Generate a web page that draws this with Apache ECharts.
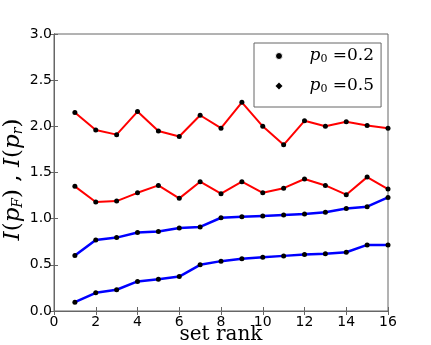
<!DOCTYPE html>
<html>
<head>
<meta charset="utf-8">
<script src="https://cdn.jsdelivr.net/npm/echarts@6/dist/echarts.min.js"></script>
<style>
html, body { margin: 0; padding: 0; background: #fff; }
#main { width: 431px; height: 345px; }
</style>
</head>
<body>
<div id="main"></div>
<script>
// set rank 1..16
var ranks = [1, 2, 3, 4, 5, 6, 7, 8, 9, 10, 11, 12, 13, 14, 15, 16];
// red curves
var redHigh = [2.15, 1.96, 1.91, 2.16, 1.95, 1.89, 2.12, 1.98, 2.26, 2.00, 1.80, 2.06, 2.00, 2.05, 2.01, 1.98];
var redLow = [1.35, 1.18, 1.19, 1.28, 1.36, 1.22, 1.40, 1.27, 1.40, 1.28, 1.33, 1.43, 1.36, 1.26, 1.45, 1.32];
// blue curves
var blueHigh = [0.60, 0.77, 0.795, 0.85, 0.86, 0.90, 0.91, 1.01, 1.02, 1.03, 1.04, 1.05, 1.07, 1.11, 1.13, 1.23];
var blueLow = [0.095, 0.197, 0.23, 0.32, 0.344, 0.373, 0.50, 0.54, 0.565, 0.582, 0.597, 0.611, 0.619, 0.636, 0.716, 0.716];
var legendNames = ['p0=0.2', 'p0=0.5'];
var legendValues = ['0.2', '0.5'];

var frame = '#666';
var tickFont = 'DejaVu Sans';
var serif = 'DejaVu Serif';

function pairs(ys) {
    var out = [];
    for (var i = 0; i < ranks.length; i++) out.push([ranks[i], ys[i]]);
    return out;
}

function curve(ys, color, w) {
    return {
        type: 'line',
        data: pairs(ys),
        symbol: 'circle',
        symbolSize: 5,
        itemStyle: { color: '#000' },
        lineStyle: { color: color, width: w },
        emphasis: { disabled: true },
        silent: true,
        animation: false
    };
}

var myChart = echarts.init(document.getElementById('main'), null, { renderer: 'canvas' });

var tickStyle = { inside: true, length: 4, lineStyle: { color: frame } };

var option = {
    backgroundColor: '#fff',
    animation: false,
    grid: { left: 54, right: 43, top: 34, bottom: 34, outerBoundsMode: 'none', containLabel: false, show: true, borderColor: frame, borderWidth: 1 },
    legend: {
        orient: 'vertical',
        left: 254,
        top: 43,
        padding: [4, 7, 12, 21],
        itemGap: 12,
        itemWidth: 7,
        itemHeight: 7,
        borderColor: frame,
        borderWidth: 1,
        backgroundColor: '#fff',
        selectedMode: false,
        data: [
            { name: legendNames[0], icon: 'circle', itemStyle: { color: '#000', borderColor: '#fff', borderWidth: 1 } },
            { name: legendNames[1], icon: 'diamond', itemStyle: { color: '#000' } }
        ],
        formatter: function (name) {
            var v = legendValues[legendNames.indexOf(name)];
            return '{p|p}{s|0}{n| =' + v + '}';
        },
        textStyle: {
            rich: {
                p: { fontFamily: serif, fontStyle: 'italic', fontSize: 17, color: '#000', padding: [0, 0, 0, 22], lineHeight: 20 },
                s: { fontFamily: serif, fontSize: 11, color: '#000', lineHeight: 20, padding: [7, 0, 0, 0] },
                n: { fontFamily: serif, fontSize: 17, color: '#000', lineHeight: 20 }
            }
        }
    },
    xAxis: [{
        type: 'value',
        min: 0,
        max: 16,
        interval: 2,
        name: 'set rank',
        nameLocation: 'middle',
        nameMoveOverlap: false,
        nameGap: 14,
        nameTextStyle: { fontFamily: serif, fontSize: 20, color: '#000', verticalAlign: 'top' },
        axisLine: { lineStyle: { color: frame } },
        axisTick: tickStyle,
        axisLabel: { fontFamily: tickFont, fontSize: 14, color: '#000', margin: 4 },
        splitLine: { show: false }
    }, {
        type: 'value',
        position: 'top',
        min: 0,
        max: 16,
        interval: 2,
        axisLine: { lineStyle: { color: frame } },
        axisTick: tickStyle,
        axisLabel: { show: false },
        splitLine: { show: false }
    }],
    yAxis: [{
        type: 'value',
        min: 0,
        max: 3,
        interval: 0.5,
        name: '{i|I}{n|(}{i|p}{s|F}{n|) , }{i|I}{n|(}{i|p}{s|r}{n|)}',
        nameLocation: 'middle',
        nameRotate: 90,
        nameMoveOverlap: false,
        nameGap: 27,
        nameTextStyle: {
            padding: [0, 14, 0, 0],
            rich: {
                i: { fontFamily: serif, fontStyle: 'italic', fontSize: 23, color: '#000', lineHeight: 28 },
                n: { fontFamily: serif, fontSize: 23, color: '#000', lineHeight: 28 },
                s: { fontFamily: serif, fontStyle: 'italic', fontSize: 14, color: '#000', lineHeight: 28, padding: [10, 0, 0, 0] }
            }
        },
        axisLine: { lineStyle: { color: frame } },
        axisTick: tickStyle,
        axisLabel: {
            fontFamily: tickFont, fontSize: 14, color: '#000', margin: 2,
            formatter: function (v) { return v.toFixed(1); }
        },
        splitLine: { show: false }
    }, {
        type: 'value',
        position: 'right',
        min: 0,
        max: 3,
        interval: 0.5,
        axisLine: { lineStyle: { color: frame } },
        axisTick: tickStyle,
        axisLabel: { show: false },
        splitLine: { show: false }
    }],
    series: [
        curve(redHigh, '#ff0000', 2),
        curve(redLow, '#ff0000', 2),
        curve(blueHigh, '#0000ff', 2.5),
        curve(blueLow, '#0000ff', 2.5),
        { name: legendNames[0], type: 'line', data: [], symbol: 'circle', itemStyle: { color: '#000' } },
        { name: legendNames[1], type: 'line', data: [], symbol: 'diamond', itemStyle: { color: '#000' } }
    ]
};

myChart.setOption(option);
</script>
</body>
</html>
